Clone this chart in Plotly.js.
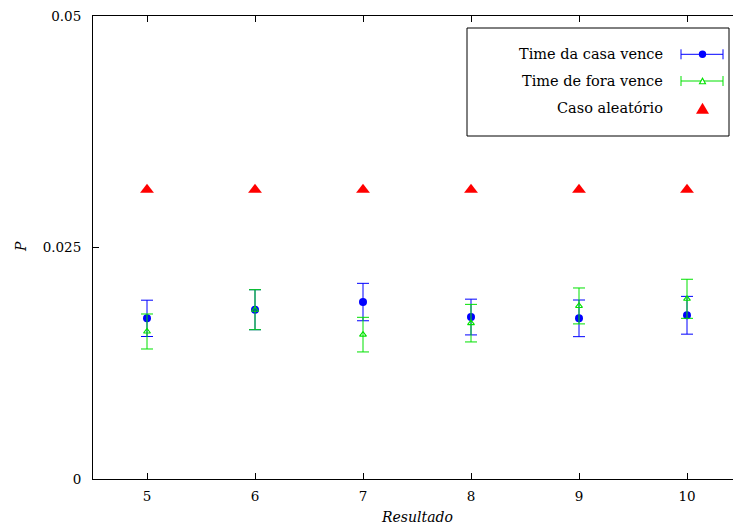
<!DOCTYPE html>
<html>
<head>
<meta charset="utf-8">
<script src="https://cdn.plot.ly/plotly-3.0.1.min.js"></script>
<style>
html,body{margin:0;padding:0;background:#fff;overflow:hidden;}
#chart{width:760px;height:526px;}
</style>
</head>
<body>
<div id="chart"></div>
<script>
// ---- data ----
const resultado = [5, 6, 7, 8, 9, 10];
const casaP   = [0.01735, 0.01828, 0.01911, 0.01749, 0.01735, 0.01768];
const casaErr = [0.00196, 0.00216, 0.00202, 0.00193, 0.00198, 0.00204];
const foraP   = [0.01593, 0.01828, 0.01559, 0.01683, 0.01869, 0.01946];
const foraErr = [0.00189, 0.00216, 0.00187, 0.00203, 0.00194, 0.00211];
const aleatorioP = [0.03125, 0.03125, 0.03125, 0.03125, 0.03125, 0.03125];
const yTicks = [0, 0.025, 0.05];
const yTickText = ['0', '0.025', '0.05'];
const legendNames = ['Time da casa vence', 'Time de fora vence', 'Caso aleatório'];

const BLUE = 'rgb(0,0,255)';
const GREEN = 'rgb(0,225,0)';
const RED = 'rgb(255,0,0)';
const FONT = 'DejaVu Serif';

// plot area in pixels (for layout decorations only)
const PL = 93, PR = 741, PT = 16, PB = 479;
const px = x => (x - PL) / (PR - PL);
const py = y => (PB - y) / (PB - PT);

const traces = [
  {
    x: resultado, y: casaP, type: 'scatter', mode: 'markers', name: legendNames[0],
    marker: {symbol: 'circle', size: 8, color: BLUE},
    error_y: {type: 'data', array: casaErr, visible: true, color: BLUE, thickness: 1, width: 6},
    cliponaxis: false
  },
  {
    x: resultado, y: foraP, type: 'scatter', mode: 'markers', name: legendNames[1],
    marker: {symbol: 'triangle-up-open', size: 6, color: GREEN, line: {width: 1.1, color: GREEN}},
    error_y: {type: 'data', array: foraErr, visible: true, color: GREEN, thickness: 1, width: 6},
    cliponaxis: false
  },
  {
    x: resultado, y: aleatorioP, type: 'scatter', mode: 'markers', name: legendNames[2],
    marker: {symbol: 'triangle-up', size: 12, color: RED},
    cliponaxis: false
  }
];

// custom legend (gnuplot style: text left, key right)
const rows = [54.3, 81, 108.3];
const keyL = 681, keyR = 723, keyC = 702.5;
const shapes = [
  {type: 'rect', xref: 'paper', yref: 'paper', x0: px(467), x1: px(729), y0: py(136), y1: py(28),
   line: {color: 'black', width: 1}, fillcolor: 'white', layer: 'above'}
];
const keyColors = [BLUE, GREEN];
for (let i = 0; i < 2; i++) {
  const r = rows[i], c = keyColors[i];
  shapes.push({type: 'line', xref: 'paper', yref: 'paper', x0: px(keyL), x1: px(keyR), y0: py(r), y1: py(r), line: {color: c, width: 1}, layer: 'above'});
  shapes.push({type: 'line', xref: 'paper', yref: 'paper', x0: px(keyL), x1: px(keyL), y0: py(r - 5), y1: py(r + 5), line: {color: c, width: 1}, layer: 'above'});
  shapes.push({type: 'line', xref: 'paper', yref: 'paper', x0: px(keyR), x1: px(keyR), y0: py(r - 5), y1: py(r + 5), line: {color: c, width: 1}, layer: 'above'});
}
// blue dot
shapes.push({type: 'circle', xref: 'paper', yref: 'paper', x0: px(keyC - 3.7), x1: px(keyC + 3.7), y0: py(rows[0] + 3.7), y1: py(rows[0] - 3.7),
  fillcolor: BLUE, line: {color: BLUE, width: 0}, layer: 'above'});
function triPath(cx, cy, w, h) {
  return 'M' + px(cx - w / 2) + ',' + py(cy + h / 2) + ' L' + px(cx + w / 2) + ',' + py(cy + h / 2) + ' L' + px(cx) + ',' + py(cy - h / 2) + ' Z';
}
// green open triangle, red filled triangle
shapes.push({type: 'path', xref: 'paper', yref: 'paper', path: triPath(keyC, rows[1], 6, 5.5), fillcolor: 'white', line: {color: GREEN, width: 1.1}, layer: 'above'});
shapes.push({type: 'path', xref: 'paper', yref: 'paper', path: triPath(keyC, rows[2], 13, 11), fillcolor: RED, line: {color: RED, width: 0}, layer: 'above'});

const annotations = legendNames.map((t, i) => ({
  text: t, xref: 'paper', yref: 'paper', x: px(665), y: py(rows[i]), xanchor: 'right', yanchor: 'middle',
  showarrow: false, font: {family: FONT, size: 14.5, color: 'black'}
}));
annotations.push({text: '<i>Resultado</i>', xref: 'paper', yref: 'paper', x: px(417), y: py(517), xanchor: 'center', yanchor: 'middle',
  showarrow: false, font: {family: FONT, size: 14, color: 'black'}});
annotations.push({text: '<i>P</i>', xref: 'paper', yref: 'paper', x: px(21), y: py(247), xanchor: 'center', yanchor: 'middle', textangle: -90,
  showarrow: false, font: {family: FONT, size: 14, color: 'black'}});

const layout = {
  width: 760, height: 526,
  margin: {l: PL, r: 760 - PR, t: PT, b: 526 - PB, pad: 0},
  paper_bgcolor: 'white', plot_bgcolor: 'white',
  showlegend: false,
  font: {family: FONT, size: 14, color: 'black'},
  xaxis: {
    range: [4.5, 10.5], tickvals: resultado, ticks: 'inside', ticklen: 6, tickwidth: 1, tickcolor: 'black',
    showline: true, linecolor: 'black', linewidth: 1, mirror: 'ticks', showgrid: false, zeroline: false,
    ticklabelstandoff: 5, tickfont: {family: FONT, size: 13.5, color: 'black'}
  },
  yaxis: {
    range: [0, 0.05], tickvals: yTicks, ticktext: yTickText, ticks: 'inside', ticklen: 6, tickwidth: 1, tickcolor: 'black',
    showline: true, linecolor: 'black', linewidth: 1, mirror: 'ticks', showgrid: false, zeroline: false,
    ticklabelstandoff: 8, tickfont: {family: FONT, size: 13.5, color: 'black'}
  },
  shapes: shapes,
  annotations: annotations
};

Plotly.newPlot('chart', traces, layout, {displayModeBar: false, staticPlot: true});
</script>
</body>
</html>
